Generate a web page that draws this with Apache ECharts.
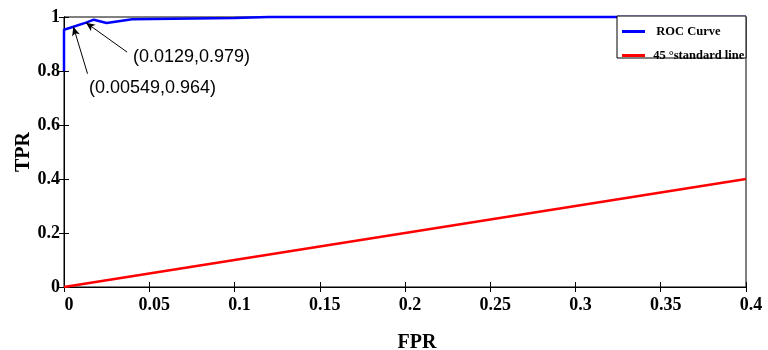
<!DOCTYPE html>
<html>
<head>
<meta charset="utf-8">
<script src="https://cdn.jsdelivr.net/npm/echarts@6/dist/echarts.min.js"></script>
<style>
  html, body { margin: 0; padding: 0; background: #fff; }
  #main { width: 768px; height: 350px; }
</style>
</head>
<body>
<div id="main"></div>
<script type="text/javascript">
// ROC curve points [FPR, TPR]
var rocPoints = [
    [0, 0.8], [0, 0.953], [0.00549, 0.964], [0.0129, 0.979], [0.0175, 0.99],
    [0.025, 0.978], [0.04, 0.992], [0.1, 0.996], [0.12, 1], [0.4, 1]
];
// 45 degree reference line
var diagPoints = [[0, 0], [0.4, 0.4]];
var xTickLabels = ['0', '0.05', '0.1', '0.15', '0.2', '0.25', '0.3', '0.35', '0.4'];
var yTickLabels = ['0', '0.2', '0.4', '0.6', '0.8', '1'];
// annotated points and where their arrows start
var notePoints = [[0.00549, 0.964], [0.0129, 0.979]];
var noteTails = [[0.0138, 0.79], [0.037, 0.87]];
var noteTexts = ['(0.00549,0.964)', '(0.0129,0.979)'];

var serif = '"Liberation Serif", "Times New Roman", serif';
var sans = '"Liberation Sans", Arial, sans-serif';

var myChart = echarts.init(document.getElementById('main'));

var tickStyle = { inside: true, length: 5, lineStyle: { color: '#000', width: 1 } };

var option = {
    animation: false,
    backgroundColor: '#fff',
    grid: {
        left: 64, right: 22, top: 17, bottom: 63,
        outerBoundsMode: 'none', containLabel: false,
        show: true, borderColor: '#000', borderWidth: 1
    },
    legend: {
        orient: 'vertical',
        left: 622,
        top: 25,
        z: 10,
        icon: 'rect',
        itemWidth: 23,
        itemHeight: 3,
        itemGap: 11,
        padding: 0,
        textStyle: { fontFamily: serif, fontWeight: 'bold', fontSize: 12.5, color: '#000' },
        formatter: function (n) { return n === 'ROC Curve' ? '  ROC Curve' : ' ' + n; },
        data: ['ROC Curve', '45 °standard line']
    },
    xAxis: [{
        type: 'value', min: 0, max: 0.4, interval: 0.05,
        name: 'FPR', nameLocation: 'middle', nameGap: 46, nameMoveOverlap: false,
        nameTextStyle: { fontFamily: serif, fontWeight: 'bold', fontSize: 20, color: '#000', padding: [0, 0, 0, 24] },
        axisLine: { lineStyle: { color: '#000', width: 1 } },
        axisTick: tickStyle,
        splitLine: { show: false },
        axisLabel: {
            margin: 9, fontFamily: serif, fontWeight: 'bold', fontSize: 18, color: '#000',
            padding: [0, 0, 0, 10],
            formatter: function (v) { return xTickLabels[Math.round(v / 0.05)]; }
        }
    }, {
        type: 'value', position: 'top', min: 0, max: 0.4, interval: 0.05,
        axisLine: { show: true, lineStyle: { color: '#000' } },
        axisTick: tickStyle, axisLabel: { show: false }, splitLine: { show: false }
    }],
    yAxis: [{
        type: 'value', min: 0, max: 1, interval: 0.2,
        name: 'TPR', nameLocation: 'middle', nameGap: 30, nameMoveOverlap: false,
        nameTextStyle: { fontFamily: serif, fontWeight: 'bold', fontSize: 20, color: '#000' },
        axisLine: { show: true, lineStyle: { color: '#000', width: 1 } },
        axisTick: tickStyle,
        splitLine: { show: false },
        axisLabel: {
            margin: 4, fontFamily: serif, fontWeight: 'bold', fontSize: 18, color: '#000',
            formatter: function (v) { return yTickLabels[Math.round(v / 0.2)]; }
        }
    }, {
        type: 'value', position: 'right', min: 0, max: 1, interval: 0.2,
        axisLine: { show: true, lineStyle: { color: '#000' } },
        axisTick: tickStyle, axisLabel: { show: false }, splitLine: { show: false }
    }],
    series: [{
        name: 'ROC Curve',
        type: 'line',
        data: rocPoints,
        symbol: 'none',
        clip: false,
        lineStyle: { color: '#0000ff', width: 2.5 },
        itemStyle: { color: '#0000ff' },
        markLine: {
            silent: true,
            animation: false,
            symbol: ['none', 'arrow'],
            symbolSize: [6, 9],
            label: { show: false },
            lineStyle: { color: '#000', width: 1, type: 'solid' },
            data: notePoints.map(function (p, i) {
                return [{ coord: noteTails[i] }, { coord: p }];
            })
        }
    }, {
        name: '45 °standard line',
        type: 'line',
        data: diagPoints,
        symbol: 'none',
        clip: false,
        lineStyle: { color: '#ff0000', width: 2.5 },
        itemStyle: { color: '#ff0000' }
    }],
    graphic: [{
        type: 'rect',
        shape: { x: 617, y: 16, width: 129, height: 42 },
        style: { fill: '#fff', stroke: '#000', lineWidth: 1 },
        z: 5
    }, {
        type: 'text', left: 89, top: 79, z: 60,
        style: { text: noteTexts[0], font: '18px ' + sans, fill: '#000' }
    }, {
        type: 'text', left: 133, top: 48, z: 60,
        style: { text: noteTexts[1], font: '18px ' + sans, fill: '#000' }
    }]
};

myChart.setOption(option);
</script>
</body>
</html>
